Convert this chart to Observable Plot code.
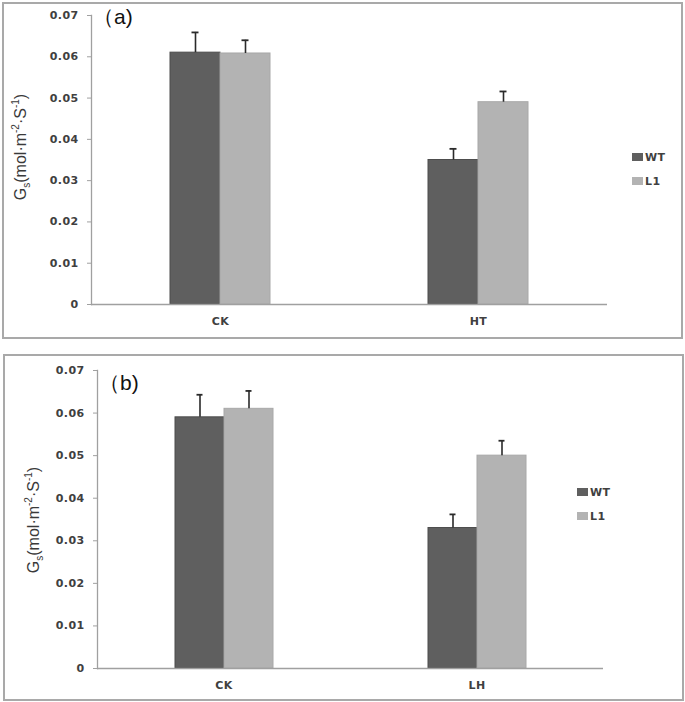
<!DOCTYPE html>
<html>
<head>
<meta charset="utf-8">
<script src="https://cdn.jsdelivr.net/npm/d3@7"></script>
<script src="https://cdn.jsdelivr.net/npm/@observablehq/plot@0.6"></script>
<style>
  body { margin: 0; background: #fff; }
  #wrap { position: relative; width: 685px; height: 702px; overflow: hidden; font-family: "DejaVu Sans", sans-serif; }
  .panel { position: absolute; border: 2px solid #a9a9a9; box-sizing: border-box; }
  .chart { position: absolute; left: 0; }
  .chart text { letter-spacing: 0.4px; }
  .ytitle { position: absolute; font-family: "Liberation Sans", Arial, sans-serif; font-size: 16px; color: #3a3a3a; white-space: nowrap; transform: translate(-50%, -50%) rotate(-90deg); }
  .ytitle sub, .ytitle sup { font-size: 10px; }
  .plabel { position: absolute; font-family: "Liberation Sans", Arial, sans-serif; font-size: 21px; color: #111; white-space: nowrap; }
  .legend { position: absolute; font-family: "DejaVu Sans", sans-serif; font-size: 11px; font-weight: bold; color: #404040; letter-spacing: 0.4px; }
  .legend div { display: flex; align-items: center; height: 12px; margin-bottom: 12px; }
  .legend span.sw { display: inline-block; width: 11px; height: 8px; margin-right: 2px; }
</style>
</head>
<body>
<div id="wrap"></div>
<script>
// ---- data ----
const series = ["WT", "L1"];
const seriesColors = ["#5f5f5f", "#b3b3b3"];
const yTicks = [0, 0.01, 0.02, 0.03, 0.04, 0.05, 0.06, 0.07];
const yTickLabels = ["0", "0.01", "0.02", "0.03", "0.04", "0.05", "0.06", "0.07"];

const groupsA = ["CK", "HT"];
const meanA_WT = [0.061, 0.035];
const errA_WT = [0.0049, 0.0027];
const meanA_L1 = [0.0608, 0.049];
const errA_L1 = [0.0032, 0.0026];

const groupsB = ["CK", "LH"];
const meanB_WT = [0.059, 0.033];
const errB_WT = [0.0053, 0.0032];
const meanB_L1 = [0.061, 0.050];
const errB_L1 = [0.0042, 0.0035];

function rowsFor(groups, mWT, eWT, mL1, eL1) {
  const rows = [];
  groups.forEach((g, i) => {
    rows.push({group: g, series: "WT", value: mWT[i], err: eWT[i]});
    rows.push({group: g, series: "L1", value: mL1[i], err: eL1[i]});
  });
  return rows;
}

function makeChart(rows, groups, dims) {
  return Plot.plot({
    width: 685,
    height: dims.height,
    marginLeft: dims.ml,
    marginRight: dims.mr,
    marginTop: dims.mt,
    marginBottom: dims.mb,
    style: {background: "none", fontFamily: "DejaVu Sans, sans-serif", fontSize: "11px", fontWeight: "bold", color: "#404040"},
    fx: {domain: groups, padding: 0, label: null},
    x: {domain: series, paddingInner: 0, paddingOuter: 1.53, axis: null},
    y: {domain: [0, 0.07], label: null},
    color: {domain: series, range: seriesColors},
    marks: [
      Plot.barY(rows, {fx: "group", x: "series", y: "value", fill: "series", stroke: d => d.series === "WT" ? "#4d4d4d" : "#a8a8a8", strokeWidth: 1}),
      Plot.ruleX(rows, {fx: "group", x: "series", y1: "value", y2: d => d.value + d.err, stroke: "#2a2a2a", strokeWidth: 1.6}),
      Plot.tickY(rows, {fx: "group", x: "series", y: d => d.value + d.err, insetLeft: 21.5, insetRight: 21.5, stroke: "#2a2a2a", strokeWidth: 1.8}),
      Plot.ruleY([0], {stroke: "#a0a0a0", strokeWidth: 1.3}),
      Plot.frame({anchor: "left", facetAnchor: "left", stroke: "#a0a0a0", strokeWidth: 1.3}),
      Plot.axisY({ticks: yTicks, tickFormat: (d) => yTickLabels[yTicks.indexOf(d)], tickSize: 4, tickPadding: 9, stroke: "#a0a0a0", fill: "#404040", label: null}),
      Plot.axisFx({anchor: "bottom", tickSize: 0, tickPadding: dims.xpad, fill: "#404040", label: null})
    ]
  });
}

const wrap = document.getElementById("wrap");

function addPanel(opts) {
  const p = document.createElement("div");
  p.className = "panel";
  Object.assign(p.style, {left: opts.bx + "px", top: opts.by + "px", width: opts.bw + "px", height: opts.bh + "px"});
  wrap.appendChild(p);

  const chart = makeChart(opts.rows, opts.groups, opts.dims);
  chart.classList.add("chart");
  chart.style.top = opts.top + "px";
  wrap.appendChild(chart);

  const t = document.createElement("div");
  t.className = "ytitle";
  t.innerHTML = "G<sub>s</sub>(mol·m<sup>-2</sup>·S<sup>-1</sup>)";
  Object.assign(t.style, {left: opts.tx + "px", top: opts.ty + "px"});
  wrap.appendChild(t);

  const l = document.createElement("div");
  l.className = "plabel";
  l.textContent = opts.label;
  Object.assign(l.style, {left: opts.lx + "px", top: opts.ly + "px"});
  wrap.appendChild(l);

  const lg = document.createElement("div");
  lg.className = "legend";
  Object.assign(lg.style, {left: opts.gx + "px", top: opts.gy + "px"});
  series.forEach((s, i) => {
    const row = document.createElement("div");
    const sw = document.createElement("span");
    sw.className = "sw";
    sw.style.background = seriesColors[i];
    row.appendChild(sw);
    row.appendChild(document.createTextNode(s));
    lg.appendChild(row);
  });
  wrap.appendChild(lg);
}

addPanel({
  rows: rowsFor(groupsA, meanA_WT, errA_WT, meanA_L1, errA_L1),
  groups: groupsA,
  dims: {height: 340, ml: 90, mr: 78, mt: 15, mb: 36, xpad: 13},
  top: 0,
  bx: 2, by: 2, bw: 681, bh: 337,
  tx: 21, ty: 147,
  label: "（a)", lx: 93, ly: 3,
  gx: 632, gy: 151
});

addPanel({
  rows: rowsFor(groupsB, meanB_WT, errB_WT, meanB_L1, errB_L1),
  groups: groupsB,
  dims: {height: 350, ml: 97, mr: 82, mt: 20, mb: 32, xpad: 13},
  top: 350,
  bx: 3, by: 354, bw: 681, bh: 347,
  tx: 34, ty: 520,
  label: "（b)", lx: 99, ly: 369,
  gx: 577, gy: 486
});
</script>
</body>
</html>
